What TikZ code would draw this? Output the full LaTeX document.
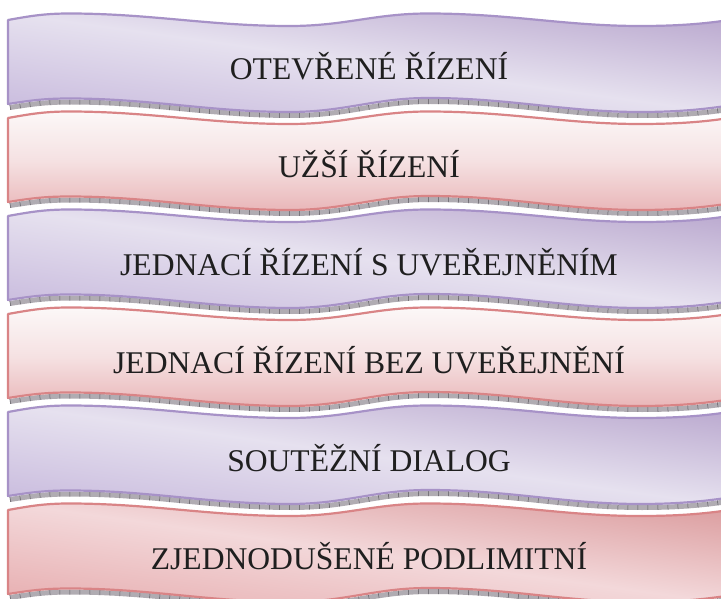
\documentclass[tikz,border=0pt]{standalone}
\usepackage{fontspec}
\setmainfont{Liberation Serif}
\definecolor{pdark}{RGB}{184,166,205}
\definecolor{pdark2}{RGB}{200,186,221}
\definecolor{plight}{RGB}{230,225,239}
\definecolor{pborder}{RGB}{167,146,199}
\definecolor{kwhite}{RGB}{252,248,248}
\definecolor{kmid}{RGB}{245,225,226}
\definecolor{kdark}{RGB}{233,182,184}
\definecolor{kborder}{RGB}{217,132,134}
\definecolor{kdarkb}{RGB}{218,154,156}
\definecolor{kdarkc}{RGB}{231,174,176}
\definecolor{klight}{RGB}{243,216,218}
\definecolor{shadowgray}{RGB}{176,172,178}
\definecolor{tickgray}{RGB}{92,90,96}
\pgfdeclareverticalshading{purpdiag}{100bp}{color(0bp)=(pdark2); color(25bp)=(pdark2); color(50bp)=(plight); color(75bp)=(pdark); color(100bp)=(pdark)}
\pgfdeclareverticalshading{pinkvert}{100bp}{color(0bp)=(kwhite); color(25bp)=(kwhite); color(50bp)=(kmid); color(75bp)=(kdark); color(100bp)=(kdark)}
\pgfdeclareverticalshading{pinkdiag}{100bp}{color(0bp)=(kdarkc); color(25bp)=(kdarkc); color(50bp)=(klight); color(75bp)=(kdarkb); color(100bp)=(kdarkb)}
\newcommand\bannershape{(8,0) .. controls (30,-4) and (45,-6.5) .. (69,-6.5)
  .. controls (150,-6.5) and (210,6) .. (290,6)
  .. controls (345,6) and (375,-6.5) .. (428,-6.5)
  .. controls (510,-6.5) and (565,6) .. (640,6)
  .. controls (680,6) and (705,3.5) .. (726,0.5)
  -- (726,86) .. controls (705,89) and (680,92) .. (640,92)
  .. controls (565,92) and (510,78) .. (428,78)
  .. controls (375,78) and (345,92) .. (290,92)
  .. controls (210,92) and (150,78.5) .. (69,78.5)
  .. controls (45,78.5) and (30,80.5) .. (8,84) -- cycle}
\newcommand\bannerbottom{(8,84) .. controls (30,80.5) and (45,78.5) .. (69,78.5)
  .. controls (150,78.5) and (210,92) .. (290,92)
  .. controls (345,92) and (375,78) .. (428,78)
  .. controls (510,78) and (565,92) .. (640,92)
  .. controls (680,92) and (705,89) .. (726,86)}
\tikzset{
  bannerline/.style={line width=2.2pt, line join=round},
  shadowstrip/.style={shadowgray, line width=5pt},
  shadowticks/.style={tickgray, line width=5pt, dash pattern=on 0.5pt off 9.5pt},
  lbl/.style={font=\fontsize{31.6}{38}\selectfont, text=black!88, anchor=base, inner sep=0pt}
}
\begin{document}
\begin{tikzpicture}[x=1pt,y=-1pt]
\useasboundingbox (0,0) rectangle (721,599);
\fill[white] (0,0) rectangle (721,599);
\foreach \i/\shd/\ma/\mb/\mc/\md/\bcol/\txt in {
    0/purpdiag/14.36/-2/28.72/0/pborder/{OTEVŘENÉ ŘÍZENÍ},
    1/pinkvert/14.36/0/0/-2/kborder/{UŽŠÍ ŘÍZENÍ},
    2/purpdiag/14.36/-2/28.72/0/pborder/{JEDNACÍ ŘÍZENÍ S UVEŘEJNĚNÍM},
    3/pinkvert/14.36/0/0/-2/kborder/{JEDNACÍ ŘÍZENÍ BEZ UVEŘEJNĚNÍ},
    4/purpdiag/14.36/-2/28.72/0/pborder/{SOUTĚŽNÍ DIALOG},
    5/pinkdiag/14.36/-2/28.72/0/kborder/{ZJEDNODUŠENÉ PODLIMITNÍ}}{
  \pgfmathsetmacro\yy{20+98*\i}
  \begin{scope}[shift={(0,\yy)}]
    \draw[shadowstrip, shift={(2,3.5)}] \bannerbottom;
    \draw[shadowticks, shift={(2,3.5)}] \bannerbottom;
    \begin{scope}
      \clip \bannershape;
      \pgftransformcm{\ma}{\mb}{\mc}{\md}{\pgfpoint{367pt}{-43pt}}
      \pgflowlevelsynccm
      \pgfuseshading{\shd}
    \end{scope}
    \draw[bannerline, draw=\bcol] \bannershape;
    \node[lbl] (t\i) at (369,59.5) {\txt};
  \end{scope}
}
\end{tikzpicture}
\end{document}
